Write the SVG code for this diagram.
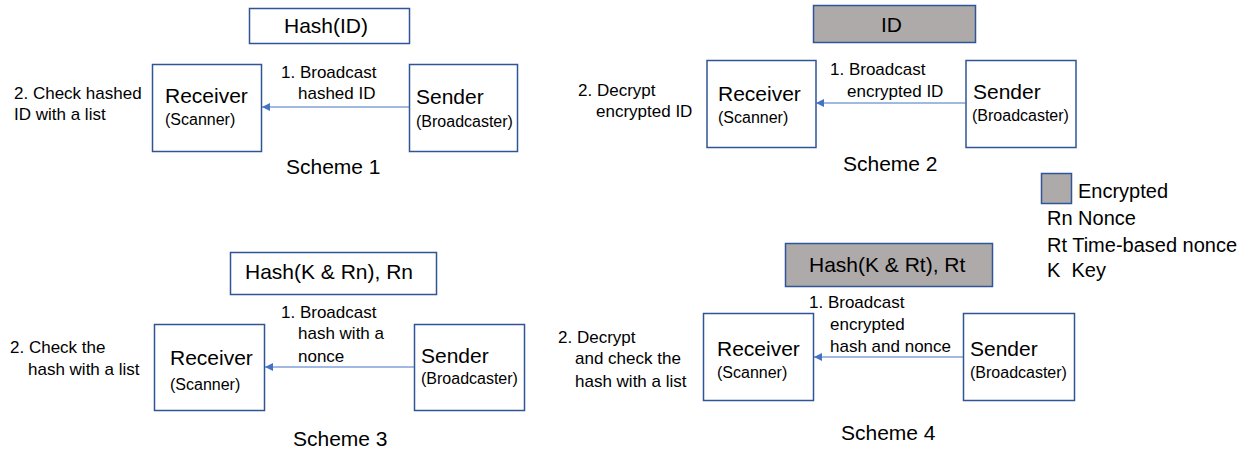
<svg xmlns="http://www.w3.org/2000/svg" width="1246" height="450" viewBox="0 0 1246 450">
  <style>
    text { font-family: "Liberation Sans", Arial, sans-serif; fill: #000; }
    .box { fill: #fff; stroke: #2F5597; stroke-width: 1.5; }
    .enc { fill: #AEAAAA; stroke: #2F5597; stroke-width: 1.5; }
    .name { font-size: 21px; }
    .role { font-size: 16px; }
    .lbl { font-size: 17px; }
    .payload { font-size: 21px; }
    .title { font-size: 21px; }
    .legend { font-size: 20px; }
    .link { stroke: #4472C4; stroke-width: 1; fill: none; marker-end: url(#head); }
  </style>
  <defs>
    <marker id="head" markerUnits="userSpaceOnUse" markerWidth="9" markerHeight="8" refX="8" refY="4" orient="auto">
      <path d="M0,0 L8,4 L0,8 Z" fill="#4472C4"/>
    </marker>
  </defs>

  <rect width="1246" height="450" fill="#fff"/>

  <!-- Scheme 1 -->
  <g id="s1-payload">
    <rect class="box" x="249.5" y="8.5" width="160" height="35"/>
    <text class="payload" x="284" y="33">Hash(ID)</text>
  </g>
  <g id="s1-receiver">
    <rect class="box" x="152.5" y="64.5" width="109" height="87"/>
    <text class="name" x="165" y="103">Receiver</text>
    <text class="role" x="165" y="125">(Scanner)</text>
  </g>
  <g id="s1-sender">
    <rect class="box" x="409.5" y="64.5" width="108" height="87"/>
    <text class="name" x="416" y="104">Sender</text>
    <text class="role" x="416" y="127">(Broadcaster)</text>
  </g>
  <g id="s1-labels">
    <text class="lbl" x="281" y="78">1. Broadcast</text>
    <text class="lbl" x="298" y="99">hashed ID</text>
    <text class="lbl" x="14" y="99">2. Check hashed</text>
    <text class="lbl" x="14" y="120">ID with a list</text>
    <text class="title" x="286" y="174">Scheme 1</text>
  </g>

  <!-- Scheme 2 -->
  <g id="s2-payload">
    <rect class="enc" x="813.5" y="5.5" width="162" height="37"/>
    <text class="payload" x="881" y="32">ID</text>
  </g>
  <g id="s2-receiver">
    <rect class="box" x="707" y="60.5" width="109" height="87"/>
    <text class="name" x="718" y="101">Receiver</text>
    <text class="role" x="718" y="123">(Scanner)</text>
  </g>
  <g id="s2-sender">
    <rect class="box" x="966" y="60.5" width="110" height="87"/>
    <text class="name" x="973" y="99">Sender</text>
    <text class="role" x="972" y="121">(Broadcaster)</text>
  </g>
  <g id="s2-labels">
    <text class="lbl" x="830" y="75">1. Broadcast</text>
    <text class="lbl" x="847" y="97">encrypted ID</text>
    <text class="lbl" x="578" y="96">2. Decrypt</text>
    <text class="lbl" x="596" y="117">encrypted ID</text>
    <text class="title" x="843" y="171">Scheme 2</text>
  </g>

  <!-- Legend -->
  <g id="legend">
    <rect class="enc" x="1041.5" y="173.5" width="30" height="30"/>
    <text class="legend" x="1078" y="198">Encrypted</text>
    <text class="legend" x="1047" y="225">Rn Nonce</text>
    <text class="legend" x="1047" y="252">Rt Time-based nonce</text>
    <text class="legend" x="1047" y="277" xml:space="preserve">K  Key</text>
  </g>

  <!-- Scheme 3 -->
  <g id="s3-payload">
    <rect class="box" x="230.5" y="252.5" width="206" height="42"/>
    <text class="payload" x="245" y="279">Hash(K &amp; Rn), Rn</text>
  </g>
  <g id="s3-receiver">
    <rect class="box" x="154.5" y="324.5" width="110" height="86"/>
    <text class="name" x="170" y="365">Receiver</text>
    <text class="role" x="170" y="390">(Scanner)</text>
  </g>
  <g id="s3-sender">
    <rect class="box" x="414.5" y="324.5" width="110" height="86"/>
    <text class="name" x="421" y="363">Sender</text>
    <text class="role" x="421" y="384">(Broadcaster)</text>
  </g>
  <g id="s3-labels">
    <text class="lbl" x="281" y="318">1. Broadcast</text>
    <text class="lbl" x="298" y="339">hash with a</text>
    <text class="lbl" x="298" y="362">nonce</text>
    <text class="lbl" x="10" y="353">2. Check the</text>
    <text class="lbl" x="28" y="375">hash with a list</text>
    <text class="title" x="293" y="446">Scheme 3</text>
  </g>

  <!-- Scheme 4 -->
  <g id="s4-payload">
    <rect class="enc" x="785.5" y="243.5" width="207" height="43"/>
    <text class="payload" x="809" y="272">Hash(K &amp; Rt), Rt</text>
  </g>
  <g id="s4-receiver">
    <rect class="box" x="703.5" y="313.5" width="110" height="87"/>
    <text class="name" x="717" y="356">Receiver</text>
    <text class="role" x="717" y="378">(Scanner)</text>
  </g>
  <g id="s4-sender">
    <rect class="box" x="963.5" y="313.5" width="111" height="87"/>
    <text class="name" x="970" y="356">Sender</text>
    <text class="role" x="970" y="378">(Broadcaster)</text>
  </g>
  <g id="s4-labels">
    <text class="lbl" x="809" y="308">1. Broadcast</text>
    <text class="lbl" x="830" y="330">encrypted</text>
    <text class="lbl" x="830" y="352">hash and nonce</text>
    <text class="lbl" x="558" y="343">2. Decrypt</text>
    <text class="lbl" x="575" y="364">and check the</text>
    <text class="lbl" x="575" y="387">hash with a list</text>
    <text class="title" x="841" y="440">Scheme 4</text>
  </g>

  <!-- Connectors: broadcast from sender to receiver -->
  <g id="connectors">
    <line class="link" x1="409" y1="107" x2="262" y2="107"/>
    <line class="link" x1="966" y1="103" x2="816" y2="103"/>
    <line class="link" x1="414" y1="367" x2="265" y2="367"/>
    <line class="link" x1="963" y1="357" x2="814" y2="357"/>
  </g>
</svg>
